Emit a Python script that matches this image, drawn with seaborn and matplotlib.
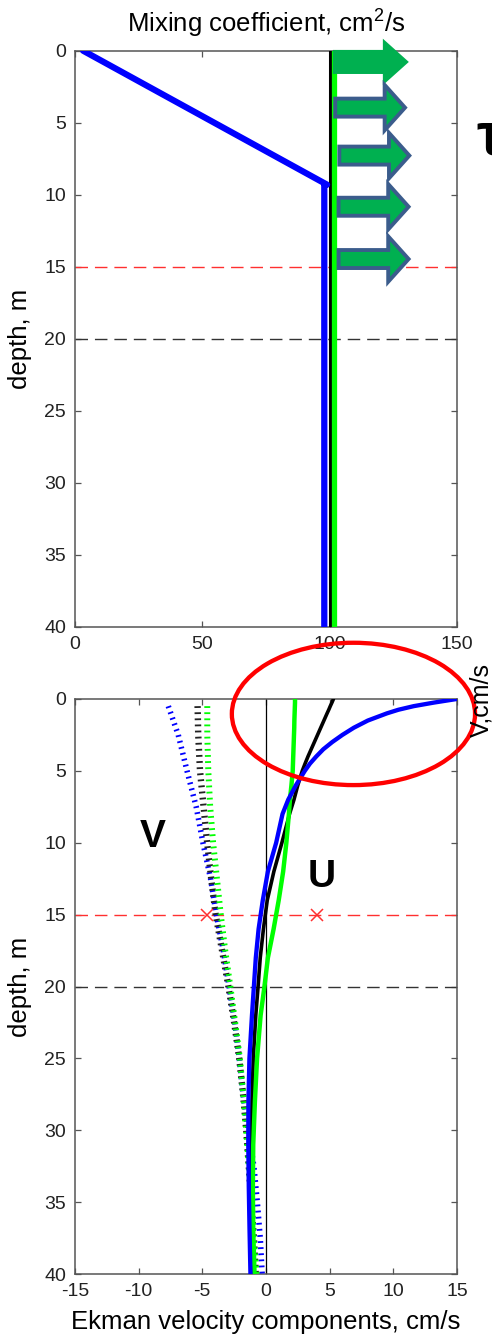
import numpy as np
import pandas as pd
import matplotlib
matplotlib.use("Agg")
import matplotlib.pyplot as plt
from matplotlib.patches import FancyArrow, Ellipse
import seaborn as sns

# ---------------- data ----------------
# top panel: mixing coefficient profiles (cm^2/s) vs depth (m)
k_blue_depth = [0.0, 9.3, 9.3, 40.0]
k_blue_val = [3.2, 99.0, 97.9, 97.9]
k_black_depth = [0.0, 40.0]
k_black_val = [100.0, 100.0]
k_green_depth = [0.0, 40.0]
k_green_val = [101.8, 101.8]

# bottom panel: Ekman velocity components (cm/s)
u_depth = [0, 0.25, 0.5, 0.75, 1, 1.5, 2, 2.5, 3, 3.5, 4, 4.5, 5, 6, 7, 8, 10, 12, 14, 16, 18, 20,
           22, 25, 28, 31, 34, 37, 40]
u_blue = [15.0, 13.2, 11.6, 10.4, 9.5, 8.0, 6.9, 6.0, 5.2, 4.5, 3.95, 3.45, 3.05, 2.35, 1.75, 1.3,
          0.8, 0.15, -0.25, -0.58, -0.8, -0.95, -1.1, -1.3, -1.38, -1.39, -1.35, -1.29, -1.22]
u_black = [5.3, 5.18, 5.05, 4.93, 4.8, 4.55, 4.3, 4.05, 3.8, 3.55, 3.3, 3.07, 2.85, 2.5, 2.2, 1.85,
           1.25, 0.62, 0.1, -0.2, -0.45, -0.62, -0.8, -1.0, -1.1, -1.15, -1.15, -1.13, -1.1]
u_green = [2.28, 2.28, 2.27, 2.26, 2.25, 2.23, 2.22, 2.2, 2.18, 2.16, 2.14, 2.12, 2.1, 2.0, 1.88, 1.8,
           1.6, 1.35, 1.0, 0.6, 0.15, -0.12, -0.42, -0.7, -0.87, -1.0, -1.03, -1.0, -0.9]

v_depth = [0.5, 2.5, 5, 7.5, 10, 12.5, 15, 17.5, 20, 22.5, 25, 27.5, 30, 32.5, 35, 37.5, 40]
v_blue = [-7.67, -6.89, -6.2, -5.48, -4.95, -4.35, -3.9, -3.35, -2.9, -2.45, -2.1, -1.8, -1.4, -0.95,
          -0.68, -0.45, -0.3]
v_black = [-5.37, -5.32, -5.18, -4.9, -4.62, -4.3, -3.95, -3.45, -2.95, -2.5, -2.1, -1.8, -1.55, -1.35,
           -1.15, -0.95, -0.8]
v_green = [-4.61, -4.61, -4.53, -4.38, -4.15, -3.85, -3.55, -3.2, -2.8, -2.42, -2.05, -1.78, -1.55,
           -1.35, -1.12, -0.98, -0.73]

ref_depths = [15, 20]          # horizontal reference lines
marker_x = [-4.66, 4.0]        # red crosses at 15 m
marker_depth = [15, 15]

xticks_top = [0, 50, 100, 150]
xticks_bot = [-15, -10, -5, 0, 5, 10, 15]
yticks = [0, 5, 10, 15, 20, 25, 30, 35, 40]

# wind stress arrows: (x start, depth, length, edged)
arrow_specs = [(101.3, 0.78, 29.8, False), (102.2, 3.95, 27.4, True), (103.8, 7.28, 27.5, True),
               (103.5, 10.83, 27.5, True), (103.5, 14.46, 27.5, True)]

# ---------------- style ----------------
sns.set_theme(style="white")
plt.rcParams['font.family'] = ['Liberation Sans', 'DejaVu Sans']
plt.rcParams['mathtext.fontset'] = 'custom'
plt.rcParams['mathtext.rm'] = 'Liberation Sans'
plt.rcParams['mathtext.default'] = 'regular'
plt.rcParams['lines.scale_dashes'] = False

SPINE = '#555555'
TXT = '#222222'
BLUE = '#0000FF'
GREEN = '#00FF00'
RED = '#FF3030'

fig = plt.figure(figsize=(4.92, 13.38), dpi=100)
ax1 = fig.add_axes([0.1524, 0.5314, 0.7764, 0.4307])
ax2 = fig.add_axes([0.1524, 0.0478, 0.7764, 0.4298])


def style_axes(ax, xlim, xticks):
    ax.set_xlim(*xlim)
    ax.set_ylim(40, 0)
    ax.set_xticks(xticks)
    ax.set_yticks(yticks)
    ax.set_xticklabels([str(t) for t in xticks])
    ax.set_yticklabels([str(t) for t in yticks])
    ax.tick_params(direction='in', length=4.5, width=0.9, color=SPINE, labelcolor=TXT,
                   labelsize=14, top=True, right=True, bottom=True, left=True, pad=6.5)
    for s in ax.spines.values():
        s.set_color(SPINE)
        s.set_linewidth(1.1)
        s.set_visible(True)
    ax.grid(False)
    ax.set_ylabel('depth, m', fontsize=18.5, color='black')
    ax.yaxis.set_label_coords(-0.112, 0.5)


# ---------------- top panel ----------------
for d in ref_depths:
    ax1.axhline(d, color=RED if d == 15 else '#333333', lw=1.0, ls=(0, (9, 5)), zorder=1)
sns.lineplot(x=k_black_val, y=k_black_depth, ax=ax1, color='black', lw=2.2, sort=False,
             estimator=None, zorder=3)
sns.lineplot(x=k_green_val, y=k_green_depth, ax=ax1, color=GREEN, lw=3.8, sort=False,
             estimator=None, zorder=3)
sns.lineplot(x=k_blue_val, y=k_blue_depth, ax=ax1, color=BLUE, lw=4.5, sort=False,
             estimator=None, zorder=4)
style_axes(ax1, (0, 150), xticks_top)
ax1.set_xlabel('')
ax1.set_title('Mixing coefficient, cm$^2$/s', fontsize=18.5, pad=13, color='black')

for x0, d0, L, edged in arrow_specs:
    if edged:
        arr = FancyArrow(x0, d0, L, 0, width=1.25, head_width=3.15, head_length=8.0,
                         length_includes_head=True, facecolor='#00B050', edgecolor='#3B5C8C',
                         linewidth=2.8, joinstyle='miter', clip_on=False, zorder=6)
    else:
        arr = FancyArrow(x0, d0, L, 0, width=1.67, head_width=3.23, head_length=10.2,
                         length_includes_head=True, facecolor='#00B050', edgecolor='none',
                         linewidth=0, clip_on=False, zorder=6)
    ax1.add_patch(arr)

fig.text(476 / 492, 1 - 139 / 1338, 'τ', fontsize=44, fontweight='bold', ha='left', va='center',
         color='black')

# ---------------- bottom panel ----------------
for d in ref_depths:
    ax2.axhline(d, color=RED if d == 15 else '#333333', lw=1.0, ls=(0, (9, 5)), zorder=1)
ax2.axvline(0, color='black', lw=0.9, zorder=2)

vdash = (0, (1.3, 3.1))
for vals, col, lw in [(v_blue, BLUE, 4.0), (v_black, '#222222', 4.6), (v_green, GREEN, 4.3)]:
    sns.lineplot(x=vals, y=v_depth, ax=ax2, color=col, lw=lw, sort=False, estimator=None, zorder=3)
    ax2.lines[-1].set_linestyle(vdash)
    ax2.lines[-1].set_dash_capstyle('butt')

for vals, col, lw in [(u_black, 'black', 2.6), (u_green, GREEN, 3.2), (u_blue, BLUE, 3.1)]:
    sns.lineplot(x=vals, y=u_depth, ax=ax2, color=col, lw=lw, sort=False, estimator=None, zorder=4)

ax2.plot(marker_x, marker_depth, ls='none', marker='x', ms=8, mew=1.1, color=RED, zorder=5)

style_axes(ax2, (-15, 15), xticks_bot)
ax2.set_xlabel('Ekman velocity components, cm/s', fontsize=18.5, labelpad=7, color='black')

ax2.text(-8.9, 9.6, 'V', fontsize=28, fontweight='bold', ha='center', va='center', color='black')
ax2.text(4.37, 12.4, 'U', fontsize=28, fontweight='bold', ha='center', va='center', color='black')

ell = Ellipse((6.87, 1.04), width=19.1, height=9.9, fill=False, edgecolor='#FF0000', lw=3.1,
              clip_on=False, zorder=10)
ax2.add_patch(ell)

fig.text(481 / 492, 1 - 700 / 1338, 'V,cm/s', fontsize=18, rotation=90, ha='center', va='center',
         color='black')

fig.savefig('out.png', dpi=100)
